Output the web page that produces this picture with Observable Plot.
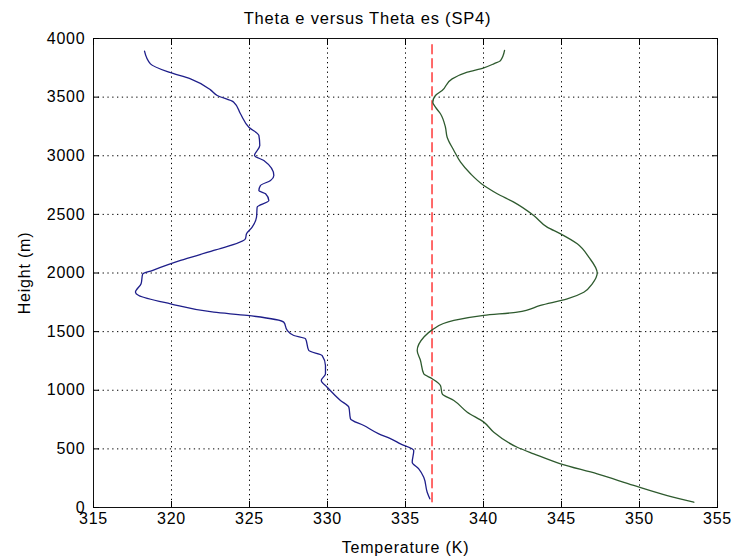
<!DOCTYPE html>
<html>
<head>
<meta charset="utf-8">
<script src="https://cdn.jsdelivr.net/npm/d3@7"></script>
<script src="https://cdn.jsdelivr.net/npm/@observablehq/plot@0.6"></script>
<style>
  html, body { margin: 0; padding: 0; background: #ffffff; }
  #chart svg text { letter-spacing: 0.8px; }
</style>
</head>
<body>
<div id="chart"></div>
<script>
// ---- data ----
const titleText = "Theta e versus Theta es (SP4)";
const xLabel = "Temperature (K)";
const yLabel = "Height (m)";
const xTicks = [315, 320, 325, 330, 335, 340, 345, 350, 355];
const yTicks = [0, 500, 1000, 1500, 2000, 2500, 3000, 3500, 4000];

// Theta e (blue)
const thetaE_T = [318.27, 318.65, 319.83, 321.22, 322.5, 322.93, 323.99, 324.42, 324.96, 325.6, 325.66, 325.32, 325.92, 326.56, 326.35, 325.7, 325.6, 326.03, 326.24, 325.49, 325.45, 325.17, 324.81, 324.74, 322.71, 320.58, 318.76, 318.15, 318.05, 317.69, 317.9, 319.94, 322.71, 324.85, 327.2, 327.42, 327.84, 328.59, 328.8, 329.66, 329.87, 329.87, 329.6, 329.98, 330.83, 331.37, 331.47, 332.33, 333.29, 334.0, 334.68, 335.53, 335.43, 335.85, 336.17, 336.39, 336.56];
const thetaE_H = [3892, 3784, 3713, 3656, 3562, 3514, 3457, 3358, 3243, 3173, 3087, 3002, 2959, 2832, 2789, 2746, 2704, 2676, 2618, 2561, 2476, 2391, 2334, 2292, 2192, 2107, 2021, 1990, 1908, 1836, 1808, 1737, 1666, 1638, 1580, 1510, 1467, 1439, 1339, 1296, 1211, 1140, 1083, 1026, 913, 855, 757, 699, 628, 590, 543, 486, 386, 330, 258, 130, 74];

// Theta es (green)
const thetaES_T = [341.35, 341.09, 340.66, 340.02, 338.96, 337.99, 337.35, 336.92, 336.75, 336.92, 337.24, 337.56, 337.67, 338.1, 338.53, 339.17, 340.02, 340.88, 341.94, 343.22, 344.08, 344.94, 346.01, 346.75, 347.29, 346.97, 346.43, 345.37, 343.65, 342.16, 340.02, 338.1, 336.71, 336.17, 335.75, 335.96, 336.17, 336.71, 337.24, 337.35, 338.1, 338.96, 340.02, 340.66, 342.16, 343.22, 344.94, 347.29, 349.63, 351.78, 353.48];
const thetaES_H = [3898, 3812, 3784, 3750, 3713, 3656, 3556, 3514, 3457, 3414, 3358, 3243, 3158, 3045, 2945, 2846, 2746, 2676, 2604, 2490, 2391, 2334, 2249, 2135, 2000, 1908, 1836, 1779, 1723, 1666, 1638, 1595, 1515, 1452, 1339, 1254, 1140, 1098, 1040, 970, 913, 813, 728, 642, 514, 458, 373, 287, 188, 102, 45];

// red dashed reference line
const refT = [336.7, 336.7];
const refH = [50, 3950];

// ---- build tables ----
const blue = thetaE_T.map((t, i) => ({t, h: thetaE_H[i]}));
const green = thetaES_T.map((t, i) => ({t, h: thetaES_H[i]}));
const ref = refT.map((t, i) => ({t, h: refH[i]}));

const font = "'Liberation Sans', Arial, sans-serif";

const plot = Plot.plot({
  width: 741,
  height: 557,
  marginLeft: 93,
  marginRight: 24,
  marginTop: 38,
  marginBottom: 50,
  style: {fontFamily: font, fontSize: "16px", background: "#ffffff", color: "#000000"},
  x: {domain: [315, 355], ticks: xTicks},
  y: {domain: [0, 4000], ticks: yTicks},
  marks: [
    Plot.gridX(xTicks, {stroke: "#000", strokeOpacity: 1, strokeWidth: 1, strokeDasharray: "1.3,3.5"}),
    Plot.gridY(yTicks, {stroke: "#000", strokeOpacity: 1, strokeWidth: 1, strokeDasharray: "1.3,3.5"}),
    Plot.line(ref, {x: "t", y: "h", stroke: "#ff3a3a", strokeWidth: 1.5, strokeDasharray: "9,5"}),
    Plot.line(blue, {x: "t", y: "h", stroke: "#1e1e8a", strokeWidth: 1.3, curve: "monotone-y"}),
    Plot.line(green, {x: "t", y: "h", stroke: "#2e5a2e", strokeWidth: 1.3, curve: "monotone-y"}),
    Plot.frame({stroke: "#111", strokeWidth: 1}),
    Plot.axisX(xTicks, {anchor: "bottom", tickSize: -6, tickPadding: 11, fontSize: 16, tickFormat: d => String(d),
      label: xLabel, labelAnchor: "center", labelOffset: 45, labelArrow: "none"}),
    Plot.axisX(xTicks, {anchor: "top", tickSize: -6, tickFormat: () => "", label: null}),
    Plot.axisY(yTicks, {anchor: "left", tickSize: -6, tickPadding: 14, fontSize: 16, tickFormat: d => String(d),
      label: yLabel, labelAnchor: "center", labelOffset: 75, labelArrow: "none"}),
    Plot.axisY(yTicks, {anchor: "right", tickSize: -6, tickFormat: () => "", label: null}),
    Plot.text([titleText], {text: d => d, frameAnchor: "top", dx: -38, dy: -20, fontSize: 16.5, lineAnchor: "middle"})
  ]
});
document.getElementById("chart").appendChild(plot);
</script>
</body>
</html>
